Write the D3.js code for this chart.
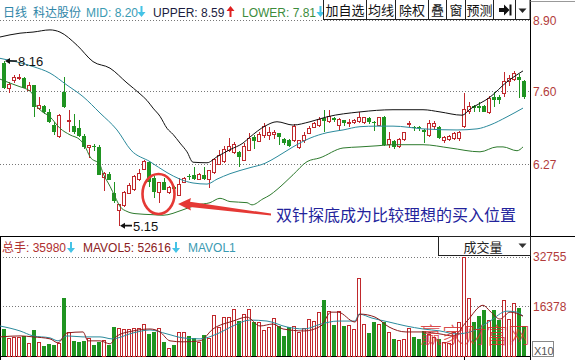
<!DOCTYPE html>
<html><head><meta charset="utf-8">
<script src="https://cdn.jsdelivr.net/npm/d3@7"></script>
<style>
html,body{margin:0;padding:0;background:#fff;}
svg{display:block;}
text{font-family:"Liberation Sans",Arial,"Noto Sans CJK SC",sans-serif;}
</style></head><body>
<svg id="c" width="575" height="360"></svg>
<script>
// ---------- data ----------
const open=[8.13,7.65,7.80,7.84,7.85,7.63,7.72,7.30,7.33,7.23, 6.99,6.78,7.60,7.05,6.97,6.93,6.79,6.57,6.60,6.59,
 6.03,6.10,5.75,5.43,5.52,5.74,5.81,5.99,6.18,6.32, 6.02,5.76,5.94,5.76,5.86,5.71,5.94,6.06,6.07,6.00,
 6.08,5.99,6.12,6.26,6.32,6.52,6.48,6.50,6.35,6.53, 6.78,6.69,6.80,6.79,6.81,6.84,6.74,6.72,6.70,6.57,
 6.70,6.84,6.95,6.98,7.12,7.05,7.12,6.99,7.08,7.02, 7.03,7.05,7.03,7.12,7.05,6.99,7.14,6.63,6.70,6.59,
 6.72,7.00,6.96,6.96,6.90,6.79,6.97,6.95,6.70,6.72, 6.75,6.75,6.96,7.23,7.33,7.34,7.34,7.22,7.50,7.50,
 7.57,7.78,7.83,7.87,7.80];
const high=[8.16,7.78,7.90,7.92,7.87,7.78,7.73,7.50,7.36,7.28, 7.05,7.19,7.87,7.27,7.20,7.08,6.82,6.63,6.64,6.62,
 6.13,6.13,5.94,5.55,5.79,5.93,6.07,6.18,6.35,6.33, 6.05,5.95,6.03,5.87,5.88,6.03,6.04,6.10,6.22,6.12,
 6.22,6.17,6.39,6.54,6.61,6.75,6.68,6.52,6.66,6.84, 6.80,6.86,7.03,6.96,6.90,6.85,6.76,6.74,7.00,6.72,
 6.86,6.98,7.04,7.14,7.27,7.26,7.14,7.12,7.09,7.10, 7.10,7.23,7.14,7.13,7.06,7.14,7.16,6.86,6.72,6.76,
 6.87,7.07,6.98,6.98,6.92,7.08,7.06,6.97,6.79,6.80, 6.86,6.88,7.57,7.42,7.35,7.41,7.36,7.52,7.59,7.54,
 7.96,7.90,7.98,7.92,7.82];
const low=[7.64,7.58,7.76,7.82,7.66,7.62,7.14,7.27,7.20,7.03, 6.81,6.75,7.30,6.87,6.83,6.78,6.55,6.39,6.51,6.07,
 5.79,5.98,5.57,5.15,5.50,5.72,5.79,5.97,6.16,5.86, 5.66,5.57,5.80,5.73,5.78,5.70,5.93,5.99,5.99,5.98,
 5.98,5.84,6.10,6.25,6.30,6.50,6.46,6.23,6.33,6.51, 6.55,6.68,6.76,6.71,6.74,6.62,6.62,6.58,6.68,6.55,
 6.66,6.82,6.93,6.96,6.86,7.03,7.04,6.90,6.98,6.95, 7.00,7.03,7.00,7.01,6.88,6.97,6.60,6.57,6.55,6.57,
 6.70,6.95,6.88,6.88,6.66,6.77,6.90,6.73,6.66,6.70, 6.72,6.70,6.93,7.20,7.23,7.22,7.22,7.20,7.32,7.38,
 7.50,7.70,7.80,7.48,7.47];
const close=[7.67,7.74,7.86,7.86,7.67,7.72,7.32,7.34,7.22,7.05, 6.87,7.17,7.32,7.08,6.86,6.79,6.59,6.61,6.58,6.08,
 6.10,5.99,5.60,5.53,5.76,5.88,6.04,6.10,6.32,5.95, 5.77,5.93,5.81,5.84,5.82,5.90,6.02,6.05,6.01,6.08,
 6.01,6.15,6.36,6.43,6.55,6.59,6.63,6.41,6.59,6.75, 6.69,6.81,6.97,6.86,6.85,6.77,6.67,6.61,6.96,6.70,
 6.80,6.93,7.01,7.10,7.06,7.14,7.08,7.10,7.02,7.04, 7.08,7.12,7.12,7.04,7.03,7.12,6.63,6.72,6.58,6.73,
 6.85,7.02,6.93,6.94,6.87,7.01,7.01,6.75,6.77,6.78, 6.84,6.86,7.28,7.32,7.30,7.31,7.23,7.47,7.45,7.44,
 7.78,7.85,7.94,7.82,7.51];
const volume=[8940,5670,6220,6220,6550,4030,8620,4590,3280,4030, 3490,4030,19100,7860,5010,4590,4800,5670,3800,4590,
 5120,3700,9500,9170,8720,8720,9170,9170,10580,7300, 8060,8940,4790,2390,3490,7630,7630,6550,5900,4360,
 6980,5670,13300,9270,12770,12770,15490,11660,13850,15260, 11330,11130,8390,9500,12440,10020,6550,9500,9700,7860,
 9170,12220,11330,14410,18440,14630,10350,14630,10020,10020, 8720,25650,10580,7630,11330,10580,11130,7860,5670,5120,
 5440,9170,6220,5670,8390,7000,6000,5500,4590,4030, 7860,11130,32755,19000,11130,13100,15170,11660,15170,12000,
 18220,12220,17460,15720,10000];

// Bollinger bands, read as (bar position, value) pairs
const upperIdx=[-0.8,3.2,5.8,9.2,11.2,14.6,17.8,21.2,24.6,27.2,28.6,29.8,31.2,32.6,33.8,35.2,36.6,37.8,40.6,42.6,45.2,47.8,49.2,52.2,54.6,57.8,61.2,64.6,71.2,77.8,83.8,87.2,91.6,93.2,97.2,100.6,103.8];
const upperVal=[8.60,8.67,8.69,8.73,8.69,8.45,8.15,8.03,7.76,7.56,7.44,7.30,7.15,6.93,6.82,6.66,6.50,6.31,6.30,6.41,6.54,6.66,6.77,6.97,7.05,6.99,7.05,7.14,7.23,7.27,7.27,7.23,7.17,7.28,7.50,7.78,7.98];
const midIdx=[-0.8,5.8,9.2,12.6,15.8,19.2,22.6,25.4,29.2,32.6,35.2,37.8,40.6,42.6,45.2,49.2,52.2,54.6,57.8,61.2,64.6,67.8,71.2,74.6,77.8,83.8,90.6,94.6,97.2,100.6,103.8];
const midVal=[8.21,8.06,7.94,7.72,7.51,7.21,6.90,6.53,6.32,6.12,6.00,5.93,5.91,6.00,6.10,6.21,6.29,6.41,6.59,6.75,6.85,6.90,6.96,6.97,6.97,6.92,6.90,6.92,6.99,7.14,7.30];
const lowerIdx=[-0.8,3.2,4.2,5.6,6.2,7.2,9.2,11.2,13.2,15.2,16.2,17.2,19.2,19.8,21.2,22.2,23.2,24.6,26.2,29.8,31.8,35.8,38.6,41.2,43.2,45.2,48.6,49.6,51.8,53.2,54.6,57.8,60.6,63.2,67.8,71.2,74.6,77.8,83.8,89.2,95.2,98.6,99.8,102.6,103.8];
const lowerVal=[7.83,7.69,7.66,7.57,7.39,7.27,7.14,6.93,6.81,6.72,6.60,6.41,6.26,6.11,5.87,5.68,5.50,5.41,5.37,5.35,5.34,5.44,5.53,5.57,5.65,5.59,5.57,5.53,5.64,5.71,5.81,6.08,6.32,6.39,6.57,6.59,6.61,6.63,6.63,6.57,6.50,6.59,6.59,6.52,6.59];

// volume moving averages, read as (bar position, value) pairs
const ma5Idx=[-0.8,3.2,5.8,9.2,10.8,12.6,15.8,16.8,19.2,21.2,22.6,25.8,29.2,31.2,33.2,35.8,39.2,41.8,45.8,48.6,51.2,53.8,55.8,60,63.4,65.4,66.8,70.2,71.2,74.2,77,80.4,83.8,87.2,89.8,92.6,95.8,97.2,99.2,101.2,103.8];
const ma5Val=[6320,6650,6320,5670,4360,7630,7960,5010,5010,4030,6650,8290,8940,7960,5010,4680,5010,8940,11560,12870,9930,10580,8940,8290,9930,14510,14510,11240,13860,12870,9600,7960,7960,7300,6650,11560,16800,14840,12220,14510,13200];
const ma10Idx=[-0.8,3.2,5.8,9.2,10.8,12.6,15.8,19.2,21.6,25.8,29.2,32.6,35.8,39.2,42.6,45.8,49.2,52.6,56.6,60,63.4,66.8,70.2,71.0,73.6,77,80.4,83.8,87.2,90.4,93.8,97.2,100.6,102.6,103.8];
const ma10Val=[9930,8290,6650,5990,5010,6650,6320,6320,5670,7630,8610,7300,5990,5670,7300,9930,11890,11560,9600,8940,10580,11560,11560,13860,12540,11240,9930,8940,8290,7300,8290,11560,14840,14510,13200];

const priceTicks=[8.90,7.60,6.27];
const volTicks=[32755,16378];
const periodName="日线", stockName="科达股份";
const bollMid="8.20", bollUpper="8.59", bollLower="7.81";
const totalVol="35980", mavol5="52616";
const buttons=["加自选","均线","除权","叠","窗","预测"];
const note="双针探底成为比较理想的买入位置";
const watermark="赢家财富网";

// ---------- drawing ----------
const RED="#c0282c", GREEN="#1f9421";
const svg=d3.select("#c");
svg.append("rect").attr("width",575).attr("height",360).attr("fill","#fff");

const N=open.length, idx=d3.range(N);
const xS=d3.scaleLinear().domain([0,N-1]).range([4,524]);
const yP=d3.scaleLinear().domain([6.27,8.90]).range([164.4,20.6]);
const yV=d3.scaleLinear().domain([0,32755]).range([356,257]);

// grids
const gridG=svg.append("g").attr("stroke","#777").attr("stroke-dasharray","1,2");
priceTicks.forEach(t=>gridG.append("line").attr("x1",0).attr("x2",530).attr("y1",Math.floor(yP(t))+0.5).attr("y2",Math.floor(yP(t))+0.5));
volTicks.forEach(t=>gridG.append("line").attr("x1",0).attr("x2",530).attr("y1",Math.floor(yV(t))+0.5).attr("y2",Math.floor(yV(t))+0.5));

// frame lines
svg.append("line").attr("x1",530.5).attr("x2",530.5).attr("y1",0).attr("y2",360).attr("stroke","#000");
svg.append("line").attr("x1",0).attr("x2",575).attr("y1",236.5).attr("y2",236.5).attr("stroke","#000");
svg.append("line").attr("x1",0).attr("x2",531).attr("y1",356.5).attr("y2",356.5).attr("stroke","#000");
svg.append("line").attr("x1",0.5).attr("x2",0.5).attr("y1",236).attr("y2",360).attr("stroke","#000");
svg.append("line").attr("x1",530).attr("x2",575).attr("y1",1.5).attr("y2",1.5).attr("stroke","#999");
svg.append("line").attr("x1",xS(92)+0.5).attr("x2",xS(92)+0.5).attr("y1",356).attr("y2",360).attr("stroke","#000");

const up=i=>close[i]>=open[i];
const col=i=>up(i)?RED:GREEN;

// candles
const cg=svg.append("g").attr("shape-rendering","crispEdges");
cg.selectAll("line").data(idx).join("line")
  .attr("x1",i=>xS(i)+0.5).attr("x2",i=>xS(i)+0.5)
  .attr("y1",i=>yP(high[i])).attr("y2",i=>yP(low[i]))
  .attr("stroke",col);
cg.selectAll("rect").data(idx).join("rect")
  .attr("x",i=>up(i)?xS(i)-1.5:xS(i)-2)
  .attr("width",i=>up(i)?3:4)
  .attr("y",i=>yP(Math.max(open[i],close[i])))
  .attr("height",i=>Math.max(1,Math.abs(yP(open[i])-yP(close[i]))))
  .attr("fill",i=>up(i)?"#fff":GREEN)
  .attr("stroke",i=>up(i)?RED:"none");

// bollinger lines
const pl=d3.line().x(d=>xS(d[0])).y(d=>yP(d[1])).curve(d3.curveMonotoneX);
[[upperIdx,upperVal,"#111"],[midIdx,midVal,"#2b8a9c"],[lowerIdx,lowerVal,"#2d7a2d"]].forEach(([a,b,c])=>{
  svg.append("path").datum(d3.zip(a,b)).attr("d",pl).attr("fill","none").attr("stroke",c).attr("stroke-width",1);
});

// volume bars
const vg=svg.append("g").attr("shape-rendering","crispEdges");
vg.selectAll("rect").data(idx).join("rect")
  .attr("x",i=>up(i)?xS(i)-1.5:xS(i)-2)
  .attr("width",i=>up(i)?3:4)
  .attr("y",i=>yV(volume[i]))
  .attr("height",i=>yV(0)-yV(volume[i]))
  .attr("fill",i=>up(i)?"#fff":GREEN)
  .attr("stroke",i=>up(i)?RED:"none");

const vl=d3.line().x(d=>xS(d[0])).y(d=>yV(d[1])).curve(d3.curveMonotoneX);
svg.append("path").datum(d3.zip(ma10Idx,ma10Val)).attr("d",vl).attr("fill","none").attr("stroke","#2b8a9c");
svg.append("path").datum(d3.zip(ma5Idx,ma5Val)).attr("d",vl).attr("fill","none").attr("stroke","#8b1a1a");

// watermark, kept inside the plot area so it does not cover the axis labels
svg.append("text").attr("x",420).attr("y",343).attr("font-size",22).attr("fill","#d42c2c").attr("opacity",0.85)
  .attr("font-family","Noto Sans CJK SC, sans-serif").attr("font-weight",300).text(watermark);

// axes (labels)
const ax1=svg.append("g").attr("transform","translate(530,0)")
  .call(d3.axisRight(yP).tickValues(priceTicks).tickFormat(d3.format(".2f")).tickSize(0).tickPadding(3));
const ax2=svg.append("g").attr("transform","translate(530,0)")
  .call(d3.axisRight(yV).tickValues(volTicks).tickFormat(d=>String(d)).tickSize(0).tickPadding(3));
[ax1,ax2].forEach(a=>{a.select(".domain").remove();
  a.selectAll("text").attr("fill","#b23b3b").attr("font-size",12).attr("font-family","Liberation Sans, Arial, sans-serif");});

// X10 box
svg.append("rect").attr("x",532.5).attr("y",341.5).attr("width",21).attr("height",15).attr("fill","#fff").attr("stroke","#888");
svg.append("text").attr("x",534).attr("y",355).attr("font-size",11).attr("fill","#555").text("X10");

// header arrows
function arrow(x,y,dir,c){ // x = center, y = top
  const p = dir==="down"
    ? `M${x-1},${y} h2 v6 h3 l-4,5 l-4,-5 h3 z`
    : `M${x-1},${y+11} h2 v-6 h3 l-4,-5 l-4,5 h3 z`;
  svg.append("path").attr("d",p).attr("fill",c);
}
const hT=(x,s,c,size)=>svg.append("text").attr("x",x).attr("y",16.5).attr("font-size",size||12).attr("fill",c).text(s);
hT(3,periodName,"#2f86a8");
hT(33,stockName,"#2f86a8");
hT(86,"MID: "+bollMid,"#3a9ab2");
arrow(141.5,6,"down","#45c3e6");
hT(153,"UPPER: "+bollUpper,"#1c1c40");
arrow(230.5,6,"up","#e02020");
hT(242,"LOWER: "+bollLower,"#3c8c3c");
arrow(320.5,6,"down","#45c3e6");

// buttons
const edges=[323,366,395,428,446,465,493,515,530];
svg.append("rect").attr("x",323.5).attr("y",-1).attr("width",206.5).attr("height",20.5).attr("fill","#fff").attr("stroke","#222");
edges.slice(1,-1).forEach(e=>svg.append("line").attr("x1",e+0.5).attr("x2",e+0.5).attr("y1",0).attr("y2",19.5).attr("stroke","#222"));
buttons.forEach((b,k)=>svg.append("text").attr("x",(edges[k]+edges[k+1])/2+0.5).attr("y",15).attr("text-anchor","middle")
  .attr("font-size",13).attr("fill","#111").attr("font-family","Noto Sans CJK SC, sans-serif").text(b));
svg.append("path").attr("d","M499,8 h5 v-3.5 l5.5,5.5 l-5.5,5.5 v-3.5 h-5 z").attr("fill","#111");
svg.append("rect").attr("x",509.5).attr("y",4.5).attr("width",2).attr("height",11).attr("fill","#111");
svg.append("path").attr("d","M518.5,8.5 L526.5,8.5 L522.5,13 Z").attr("fill","#222");

// volume header
const vT=(x,s,c)=>svg.append("text").attr("x",x).attr("y",251.5).attr("font-size",12).attr("fill",c).text(s);
vT(2,"总手: "+totalVol,"#b03030");
arrow(71,242,"down","#45c3e6");
vT(83,"MAVOL5: "+mavol5,"#8b2020");
arrow(176,242,"down","#45c3e6");
vT(188,"MAVOL1","#3a9ab2");
svg.append("rect").attr("x",438.5).attr("y",236.5).attr("width",92).attr("height",19).attr("fill","#fff").attr("stroke","#222");
svg.append("text").attr("x",483).attr("y",251.5).attr("text-anchor","middle").attr("font-size",13).attr("fill","#222")
  .attr("font-family","Noto Sans CJK SC, sans-serif").text("成交量");
svg.append("path").attr("d","M518.5,243.5 L526.5,243.5 L522.5,248 Z").attr("fill","#333");

// annotations: high / low
const hx=xS(0), hy=yP(high[0]);
svg.append("path").attr("d",`M${hx+1},${hy} l5,-3 v2.2 h7 v1.6 h-7 v2.2 z`).attr("fill","#111");
svg.append("text").attr("x",hx+14).attr("y",hy+5).attr("font-size",13).attr("fill","#111").text(high[0].toFixed(2));
const li=low.indexOf(d3.min(low)), lx=xS(li), ly=yP(low[li]);
svg.append("path").attr("d",`M${lx+1},${ly} l5,-3 v2.2 h7 v1.6 h-7 v2.2 z`).attr("fill","#111");
svg.append("text").attr("x",lx+14).attr("y",ly+5).attr("font-size",13).attr("fill","#111").text(low[li].toFixed(2));

// red circle and arrow
svg.append("ellipse").attr("cx",158.5).attr("cy",194).attr("rx",16).attr("ry",20).attr("fill","none").attr("stroke","#e53935").attr("stroke-width",2.6);
svg.append("path").attr("d","M178,204 L191,198 L190,201.8 L271,213.6 L271,215.6 L190,207 L191,210.5 Z").attr("fill","#e53935");
svg.append("text").attr("x",276).attr("y",221).attr("font-size",16).attr("fill","#23239c")
  .attr("font-family","Noto Sans CJK SC, sans-serif").text(note);
</script></body></html>
